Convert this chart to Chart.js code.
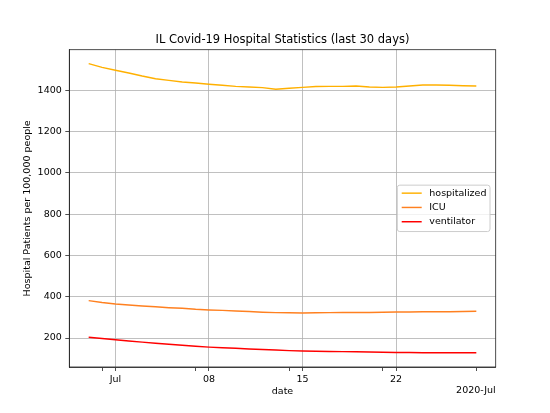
<!DOCTYPE html>
<html lang="en">
<head>
    <meta charset="UTF-8">
    <title>IL Covid-19 Hospital Statistics</title>
    <script src="https://cdn.jsdelivr.net/npm/chart.js"></script>
    <style>
        body { margin: 0; background: #fff; }
        #chart { display: block; }
    </style>
</head>
<body>
    <canvas id="chart" width="550" height="413"></canvas>
    <script>
        // data (per 100,000 people)
        const dates = [
            '2020-06-29', '2020-06-30', '2020-07-01', '2020-07-02', '2020-07-03', '2020-07-04',
            '2020-07-05', '2020-07-06', '2020-07-07', '2020-07-08', '2020-07-09', '2020-07-10',
            '2020-07-11', '2020-07-12', '2020-07-13', '2020-07-14', '2020-07-15', '2020-07-16',
            '2020-07-17', '2020-07-18', '2020-07-19', '2020-07-20', '2020-07-21', '2020-07-22',
            '2020-07-23', '2020-07-24', '2020-07-25', '2020-07-26', '2020-07-27', '2020-07-28'
        ];
        const hospitalized = [1529, 1511, 1497, 1484, 1469, 1456, 1448, 1440, 1435, 1429, 1424, 1419,
            1416, 1413, 1405, 1410, 1414, 1418, 1419, 1419, 1421, 1416, 1414, 1416,
            1421, 1426, 1426, 1424, 1422, 1421];
        const icu = [381, 372, 365, 360, 355, 351, 347, 344, 339, 336, 334, 331,
            328, 325, 323, 322, 321, 322, 323, 324, 324, 324, 325, 326,
            326, 327, 327, 327, 328, 330];
        const ventilator = [204, 198, 192, 186, 180, 175, 170, 165, 160, 156, 153, 150,
            147, 144, 142, 139, 137, 136, 135, 134, 133, 132, 131, 130,
            130, 129, 129, 129, 129, 129];

        const majorTicks = ['2020-07-01', '2020-07-08', '2020-07-15', '2020-07-22'];
        const majorLabels = ['Jul', '08', '15', '22'];
        const minorTicks = ['2020-06-30', '2020-07-07', '2020-07-14', '2020-07-21', '2020-07-28'];
        const yTicks = [200, 400, 600, 800, 1000, 1200, 1400];
        const offsetLabel = '2020-Jul';

        const FONT = "'DejaVu Sans', sans-serif";
        const DAY = 86400000;
        const origin = Date.parse('2020-07-01');
        const toDay = d => (Date.parse(d) - origin) / DAY;

        const majorX = majorTicks.map(toDay);
        const minorX = minorTicks.map(toDay);

        const series = [
            { label: 'hospitalized', values: hospitalized, color: '#ffb000' },
            { label: 'ICU', values: icu, color: '#ff8020' },
            { label: 'ventilator', values: ventilator, color: '#ff0000' }
        ];

        // matplotlib-like extras: title, full frame, inner legend, offset label
        const extras = {
            id: 'extras',
            afterDraw(chart) {
                const { ctx, chartArea: a } = chart;
                ctx.save();
                // frame
                ctx.strokeStyle = '#222';
                ctx.lineWidth = 0.8;
                ctx.strokeRect(a.left, a.top, a.right - a.left, a.bottom - a.top);

                // title
                ctx.fillStyle = '#000';
                ctx.font = '11.5px ' + FONT;
                ctx.textAlign = 'center';
                ctx.textBaseline = 'middle';
                ctx.fillText('IL Covid-19 Hospital Statistics (last 30 days)', (a.left + a.right) / 2, 40);

                // offset label
                ctx.font = '9.5px ' + FONT;
                ctx.textAlign = 'right';
                ctx.fillText(offsetLabel, a.right, 391);

                // legend
                const w = 92.7, h = 46.4;
                const bx = a.right - 5.7 - w;
                const by = (a.top + a.bottom) / 2 - h / 2;
                ctx.beginPath();
                ctx.roundRect(bx, by, w, h, 2.5);
                ctx.fillStyle = 'rgba(255,255,255,0.8)';
                ctx.fill();
                ctx.strokeStyle = '#cccccc';
                ctx.lineWidth = 1;
                ctx.stroke();
                ctx.textAlign = 'left';
                series.forEach((s, i) => {
                    const y = by + 8 + i * 14.3;
                    ctx.beginPath();
                    ctx.moveTo(bx + 4.4, y);
                    ctx.lineTo(bx + 24.4, y);
                    ctx.strokeStyle = s.color;
                    ctx.lineWidth = 1.45;
                    ctx.stroke();
                    ctx.fillStyle = '#000';
                    ctx.fillText(s.label, bx + 32, y);
                });
                ctx.restore();
            }
        };

        const chart = new Chart(document.getElementById('chart'), {
            type: 'line',
            data: {
                datasets: series.map(s => ({
                    label: s.label,
                    data: dates.map((d, i) => ({ x: toDay(d), y: s.values[i] })),
                    borderColor: s.color,
                    backgroundColor: s.color,
                    borderWidth: 1.45,
                    pointRadius: 0,
                    tension: 0
                }))
            },
            options: {
                responsive: false,
                animation: false,
                layout: { padding: { top: 49.7, right: 54.3, bottom: 0, left: 0 } },
                plugins: {
                    legend: { display: false },
                    title: { display: false },
                    tooltip: { enabled: false }
                },
                scales: {
                    x: {
                        type: 'linear',
                        min: -3.45,
                        max: 28.45,
                        afterFit: s => { s.height = 46; },
                        afterBuildTicks: s => {
                            s.ticks = [...minorX, ...majorX].sort((a, b) => a - b).map(v => ({ value: v }));
                        },
                        grid: {
                            color: c => majorX.includes(c.tick && c.tick.value) ? '#b0b0b0' : 'rgba(0,0,0,0)',
                            lineWidth: 0.8,
                            tickColor: '#222',
                            tickLength: 4
                        },
                        border: { color: '#222', width: 0.8 },
                        ticks: {
                            autoSkip: false,
                            maxRotation: 0,
                            padding: 3,
                            color: '#000',
                            font: { family: FONT, size: 9.5 },
                            callback: v => {
                                const k = majorX.indexOf(v);
                                return k >= 0 ? majorLabels[k] : '';
                            }
                        },
                        title: {
                            display: true,
                            text: 'date',
                            color: '#000',
                            font: { family: FONT, size: 9.5 },
                            padding: { top: 0, bottom: 15.6 }
                        }
                    },
                    y: {
                        min: 59.6,
                        max: 1596.6,
                        afterFit: s => { s.width = 69.3; },
                        afterBuildTicks: s => { s.ticks = yTicks.map(v => ({ value: v })); },
                        grid: { color: '#b0b0b0', lineWidth: 0.8, tickColor: '#222', tickLength: 4 },
                        border: { color: '#222', width: 0.8 },
                        ticks: {
                            padding: 3.5,
                            color: '#000',
                            font: { family: FONT, size: 9.5 },
                            callback: v => String(v)
                        },
                        title: {
                            display: true,
                            text: 'Hospital Patients per 100,000 people',
                            color: '#000',
                            font: { family: FONT, size: 9.5 },
                            padding: { top: 22, bottom: 0 }
                        }
                    }
                }
            },
            plugins: [extras]
        });
    </script>
</body>
</html>
